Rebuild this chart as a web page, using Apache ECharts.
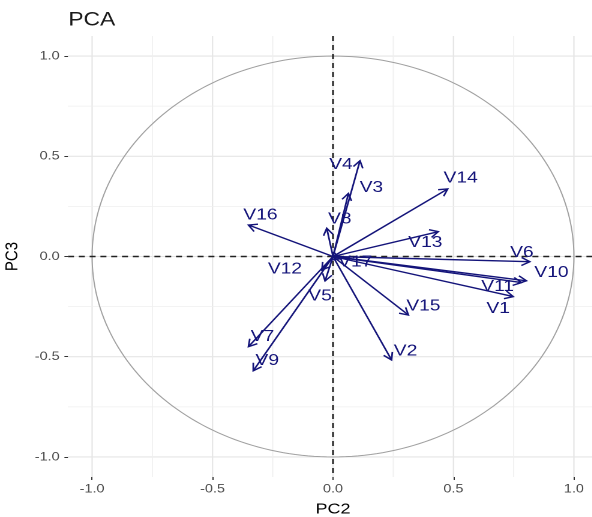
<!DOCTYPE html>
<html>
<head>
<meta charset="utf-8">
<script src="https://cdn.jsdelivr.net/npm/echarts@6/dist/echarts.min.js"></script>
<style>
  html, body { margin: 0; padding: 0; background: #fff; overflow: hidden; }
  /* the figure is drawn narrow and widened horizontally */
  #chart { width: 493px; height: 517px; transform: scaleX(1.2); transform-origin: 0 0; }
</style>
</head>
<body>
<div id="chart"></div>
<script>
// Variable loadings on PC2 / PC3
const varNames = ['V1','V2','V3','V4','V5','V6','V7','V8','V9','V10','V11','V12','V13','V14','V15','V16','V17'];
const pc2Values = [0.748, 0.243, 0.064, 0.112, -0.033, 0.817, -0.351, -0.026, -0.331, 0.803, 0.783, -0.046, 0.437, 0.476, 0.313, -0.351, 0.030];
const pc3Values = [-0.200, -0.516, 0.315, 0.478, -0.122, -0.026, -0.450, 0.141, -0.570, -0.121, -0.130, -0.067, 0.124, 0.337, -0.292, 0.157, -0.012];

// Tick values shared by both axes
const majorTicks = [-1, -0.5, 0, 0.5, 1];
const minorTicks = [-0.75, -0.25, 0.25, 0.75];

// Horizontal stretch applied to the whole figure via CSS
const STRETCH = 1.2;

// Label nudges (screen px) relative to each arrow tip
const labelNudge = {
  V1: [-15, 12], V2: [14, -9], V3: [23, -6], V4: [-19, 4], V5: [-5, 15],
  V6: [-8, -9], V7: [14, -10], V8: [13, -9], V9: [14, -10], V10: [25, -8],
  V11: [-24, 4], V12: [-37, -1], V13: [-13, 11], V14: [13, -11], V15: [15, -9],
  V16: [12, -10], V17: [15, 3]
};

const arrowColor = '#14147a';
const fontFamily = '"Liberation Sans", Arial, Helvetica, sans-serif';

const chart = echarts.init(document.getElementById('chart'), null, { devicePixelRatio: 2 });

const gridLineData = [];
majorTicks.concat(minorTicks).forEach(v => { gridLineData.push([v, 0]); gridLineData.push([v, 1]); });

const axisCommon = {
  type: 'value',
  min: -1.1,
  max: 1.1,
  splitLine: { show: false },
  axisLine: { show: false, onZero: false },
  axisTick: { show: true, customValues: majorTicks, length: 3, lineStyle: { color: '#333', width: 1 } },
  axisLabel: {
    customValues: majorTicks,
    formatter: v => (Math.abs(v) < 1e-9 ? 0 : v).toFixed(1),
    color: '#4d4d4d',
    fontSize: 12,
    fontFamily: fontFamily
  },
  nameLocation: 'middle',
  nameTextStyle: { color: '#000', fontSize: 15, fontFamily: fontFamily }
};

chart.setOption({
  animation: false,
  backgroundColor: '#ffffff',
  title: {
    text: 'PCA',
    left: 52,
    top: 6,
    textStyle: { color: '#1a1a1a', fontSize: 19, fontWeight: 'normal', fontFamily: fontFamily }
  },
  grid: { left: 68 / STRETCH, top: 36, width: 530 / STRETCH, height: 441, containLabel: false, outerBoundsMode: 'none' },
  xAxis: Object.assign({}, axisCommon, {
    name: 'PC2', nameGap: 25,
    axisLabel: Object.assign({}, axisCommon.axisLabel, { margin: 6 })
  }),
  yAxis: Object.assign({}, axisCommon, {
    name: 'PC3', nameGap: 31,
    axisLabel: Object.assign({}, axisCommon.axisLabel, { margin: 7 })
  }),
  series: [
    {
      // panel grid lines (value, orientation: 0 = vertical, 1 = horizontal)
      type: 'custom',
      silent: true,
      z: 1,
      data: gridLineData,
      renderItem: function (params, api) {
        const cs = params.coordSys;
        const v = api.value(0);
        const horiz = api.value(1) === 1;
        const major = majorTicks.indexOf(v) >= 0;
        let shape;
        if (horiz) {
          const y = api.coord([0, v])[1];
          shape = { x1: cs.x, y1: y, x2: cs.x + cs.width, y2: y };
        } else {
          const x = api.coord([v, 0])[0];
          shape = { x1: x, y1: cs.y, x2: x, y2: cs.y + cs.height };
        }
        return {
          type: 'line', shape: shape,
          style: { stroke: major ? '#e6e6e6' : '#efefef', lineWidth: major ? 1.1 : 0.8 }
        };
      }
    },
    {
      // unit correlation circle
      type: 'custom',
      silent: true,
      z: 2,
      data: [[0, 0]],
      renderItem: function (params, api) {
        const pts = [];
        const n = 240;
        for (let i = 0; i <= n; i++) {
          const t = (i / n) * Math.PI * 2;
          pts.push(api.coord([Math.cos(t), Math.sin(t)]));
        }
        return { type: 'polyline', shape: { points: pts }, style: { stroke: '#a0a0a0', lineWidth: 1, fill: null } };
      }
    },
    {
      // dashed reference lines through the origin
      type: 'custom',
      silent: true,
      z: 3,
      data: [[0, 0], [0, 1]],
      renderItem: function (params, api) {
        const cs = params.coordSys;
        const o = api.coord([0, 0]);
        const shape = api.value(1) === 1
          ? { x1: cs.x, y1: o[1], x2: cs.x + cs.width, y2: o[1] }
          : { x1: o[0], y1: cs.y, x2: o[0], y2: cs.y + cs.height };
        return { type: 'line', shape: shape, style: { stroke: '#222', lineWidth: 1.5, lineDash: [5, 4] } };
      }
    },
    {
      // variable arrows with labels
      type: 'custom',
      z: 5,
      data: varNames.map((n, i) => [pc2Values[i], pc3Values[i], n]),
      dimensions: ['PC2', 'PC3', 'name'],
      renderItem: function (params, api) {
        const o = api.coord([0, 0]);
        const p = api.coord([api.value(0), api.value(1)]);
        const name = varNames[params.dataIndex];
        const ang = Math.atan2(p[1] - o[1], p[0] - o[0]);
        const hl = 8, ha = Math.PI / 6;
        const h1 = [p[0] - hl * Math.cos(ang - ha), p[1] - hl * Math.sin(ang - ha)];
        const h2 = [p[0] - hl * Math.cos(ang + ha), p[1] - hl * Math.sin(ang + ha)];
        const nd = labelNudge[name] || [0, 0];
        return {
          type: 'group',
          children: [
            { type: 'line', shape: { x1: o[0], y1: o[1], x2: p[0], y2: p[1] },
              style: { stroke: arrowColor, lineWidth: 1.4 } },
            { type: 'polyline', shape: { points: [h1, p, h2] },
              style: { stroke: arrowColor, lineWidth: 1.4, fill: null } },
            { type: 'text', x: p[0] + nd[0] / STRETCH, y: p[1] + nd[1],
              style: { text: name, fill: arrowColor, fontSize: 16, fontFamily: fontFamily,
                       align: 'center', verticalAlign: 'middle' } }
          ]
        };
      }
    }
  ]
});
</script>
</body>
</html>
